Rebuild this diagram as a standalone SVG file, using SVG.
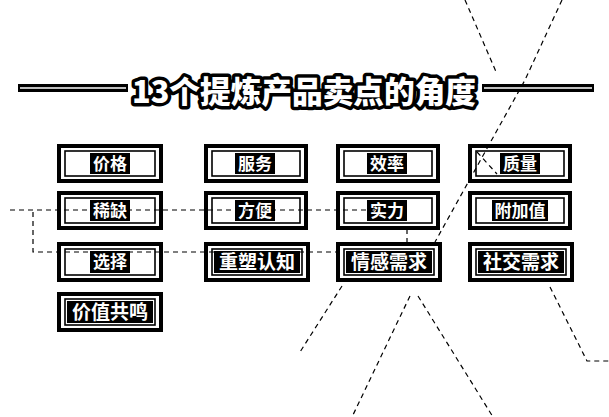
<svg xmlns="http://www.w3.org/2000/svg" width="609" height="417" viewBox="0 0 609 417">
<style>
.outer{fill:#fff;stroke:#000;stroke-width:4}
.inner{fill:#fff;stroke:#000;stroke-width:1.6}
.patch{fill:#000}
.lbl{font-family:"Noto Sans CJK SC","Noto Sans",sans-serif;font-weight:700;fill:#fff;text-anchor:middle}
.s{font-size:17px}
.l{font-size:19px}
.conn{fill:none;stroke:#000;stroke-width:1.2;stroke-dasharray:5 4}
.title{font-family:"Noto Sans CJK SC","Noto Sans",sans-serif;font-weight:900;font-size:31px;fill:#fff;stroke:#000;stroke-width:7;stroke-linejoin:round;paint-order:stroke;text-anchor:middle}
</style>
<rect width="609" height="417" fill="#fff"/>
<g id="title">
<rect x="18" y="84" width="110" height="8" fill="#000"/>
<line x1="20" y1="88" x2="126" y2="88" stroke="#fff" stroke-width="1.4"/>
<rect x="482" y="84" width="112" height="8" fill="#000"/>
<line x1="484" y1="88" x2="592" y2="88" stroke="#fff" stroke-width="1.4"/>
<text class="title" x="304" y="103" textLength="344" lengthAdjust="spacingAndGlyphs">13个提炼产品卖点的角度</text>
</g>
<g id="n-jiage"><rect class="outer" x="59" y="146" width="102" height="35"/><rect class="inner" x="65" y="151" width="90" height="25"/><rect class="patch" x="90" y="153" width="40" height="21"/><text class="lbl s" x="110" y="170">价格</text></g>
<g id="n-fuwu"><rect class="outer" x="206" y="146" width="100" height="35"/><rect class="inner" x="212" y="151" width="88" height="25"/><rect class="patch" x="235" y="153" width="40" height="21"/><text class="lbl s" x="255" y="170">服务</text></g>
<g id="n-xiaolv"><rect class="outer" x="338" y="146" width="100" height="35"/><rect class="inner" x="344" y="151" width="88" height="25"/><rect class="patch" x="367" y="153" width="40" height="21"/><text class="lbl s" x="387" y="170">效率</text></g>
<g id="n-zhiliang"><rect class="outer" x="470" y="146" width="100" height="35"/><rect class="inner" x="476" y="151" width="88" height="25"/><rect class="patch" x="500" y="153" width="40" height="21"/><text class="lbl s" x="520" y="170">质量</text></g>
<g id="n-xique"><rect class="outer" x="59" y="193" width="102" height="35"/><rect class="inner" x="65" y="198" width="90" height="25"/><rect class="patch" x="90" y="200" width="40" height="21"/><text class="lbl s" x="110" y="217">稀缺</text></g>
<g id="n-fangbian"><rect class="outer" x="206" y="193" width="100" height="35"/><rect class="inner" x="212" y="198" width="88" height="25"/><rect class="patch" x="235" y="200" width="40" height="21"/><text class="lbl s" x="255" y="217">方便</text></g>
<g id="n-shili"><rect class="outer" x="338" y="193" width="100" height="35"/><rect class="inner" x="344" y="198" width="88" height="25"/><rect class="patch" x="367" y="200" width="40" height="21"/><text class="lbl s" x="387" y="217">实力</text></g>
<g id="n-fujiazhi"><rect class="outer" x="470" y="193" width="100" height="35"/><rect class="inner" x="476" y="198" width="88" height="25"/><rect class="patch" x="492" y="200" width="56" height="21"/><text class="lbl s" x="520" y="217">附加值</text></g>
<g id="n-xuanze"><rect class="outer" x="59" y="244" width="102" height="36"/><rect class="inner" x="65" y="249" width="90" height="26"/><rect class="patch" x="90" y="251" width="40" height="22"/><text class="lbl s" x="110" y="268">选择</text></g>
<g id="n-chongsu"><rect class="outer" x="206" y="244" width="102" height="36"/><rect class="inner" x="212" y="249" width="90" height="26"/><rect class="patch" x="214" y="251" width="86" height="22"/><text class="lbl l" x="257" y="269">重塑认知</text></g>
<g id="n-qinggan"><rect class="outer" x="338" y="244" width="102" height="36"/><rect class="inner" x="344" y="249" width="90" height="26"/><rect class="patch" x="346" y="251" width="86" height="22"/><text class="lbl l" x="389" y="269">情感需求</text></g>
<g id="n-shejiao"><rect class="outer" x="470" y="244" width="102" height="36"/><rect class="inner" x="476" y="249" width="90" height="26"/><rect class="patch" x="478" y="251" width="86" height="22"/><text class="lbl l" x="521" y="269">社交需求</text></g>
<g id="n-jiazhi"><rect class="outer" x="59" y="294" width="102" height="36"/><rect class="inner" x="65" y="299" width="90" height="26"/><rect class="patch" x="67" y="301" width="86" height="22"/><text class="lbl l" x="110" y="319">价值共鸣</text></g>
<g id="connectors">
<polyline class="conn" points="10,210 375,210"/>
<polyline class="conn" points="33,212 33,252 340,252"/>
<polyline class="conn" points="465,0 497,74"/>
<polyline class="conn" points="562,0 525,80 435,242"/>
<polyline class="conn" points="477,152 497,174"/>
<polyline class="conn" points="407,229 407,243"/>
<polyline class="conn" points="342,286 300,352"/>
<polyline class="conn" points="410,296 352,417"/>
<polyline class="conn" points="418,296 493,417"/>
<polyline class="conn" points="550,287 587,361 609,361"/>
</g>
</svg>
